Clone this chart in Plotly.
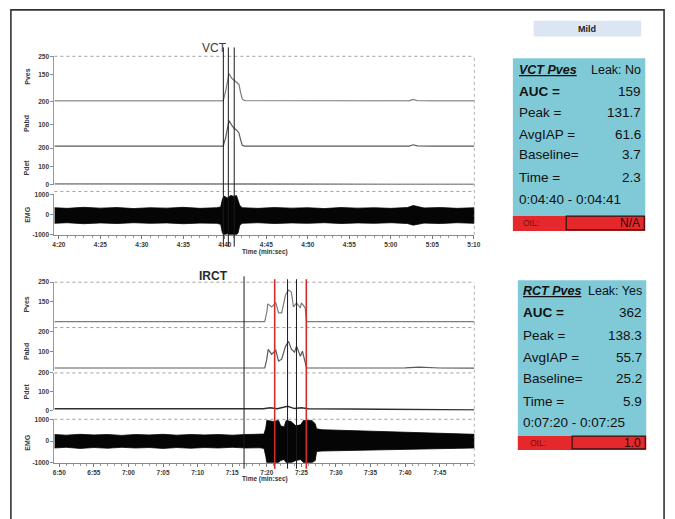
import plotly.graph_objects as go

W, H = 675, 519


def px(x):
    return x / W


def py(y):
    return 1 - y / H


# ---------------- VCT (top tracing) ----------------
vct_tick_vals = [260, 265, 270, 275, 280, 285, 290, 295, 300, 305, 310]
vct_tick_text = ["4:20", "4:25", "4:30", "4:35", "4:40", "4:45", "4:50", "4:55", "5:00", "5:05", "5:10"]
vct_range = [259.46, 310.06]

vct_p_t = [259.46, 265, 270, 275, 279.8, 280.1, 280.5, 280.8, 281.1, 281.4, 281.7, 281.9, 282.1, 282.4,
           285, 290, 295, 300, 302.2, 302.7, 303.2, 305, 310.06]
vct_pves = [4, 4.5, 3.5, 4, 4, 60, 155, 130, 118, 108, 95, 50, 15, 5,
            5, 4, 5, 4, 4, 12, 5, 4, 4]
vct_pabd = [8, 8.5, 7.5, 8, 8, 45, 118, 100, 85, 78, 65, 35, 12, 8,
            8, 8, 9, 8, 8, 14, 9, 8, 8]
vct_pdet_t = [259.46, 270, 279.8, 280.5, 281.2, 282, 285, 290, 300, 302.7, 305, 310.06]
vct_pdet = [2, 2, 2, 5, 3, 2, 2, 1.5, 1, 0.5, 1, 0.5]

vct_emg_t = [259.46, 261, 263, 265, 267, 269, 271, 273, 275, 277, 279,
             279.5, 279.7, 279.9, 280.3, 280.7, 281.1, 281.4, 281.6, 281.8, 282.1,
             284, 286, 288, 290, 292, 294, 296, 298, 300, 302,
             302.7, 304, 306, 308, 310.06]
vct_emg_hi = [340, 310, 360, 320, 350, 300, 340, 320, 360, 310, 340,
              380, 750, 920, 820, 950, 900, 950, 700, 450, 340,
              310, 350, 320, 340, 300, 350, 320, 340, 310, 350,
              450, 330, 350, 310, 340]
vct_emg_lo = [-430, -400, -450, -410, -440, -400, -430, -410, -450, -420, -430,
              -480, -900, -1000, -950, -1000, -1000, -1000, -900, -520, -430,
              -400, -440, -410, -430, -400, -440, -410, -430, -400, -440,
              -520, -420, -440, -400, -430]
vct_marks = [279.82, 280.42, 281.13]

# ---------------- IRCT (bottom tracing) ----------------
irct_tick_vals = [410, 415, 420, 425, 430, 435, 440, 445, 450, 455, 460, 465]
irct_tick_text = ["6:50", "6:55", "7:00", "7:05", "7:10", "7:15", "7:20", "7:25", "7:30", "7:35", "7:40", "7:45"]
irct_range = [409.29, 470]

irct_pves_t = [409.29, 415, 420, 425, 430, 435, 439.7, 440.0, 440.15, 440.7, 441.3, 441.7, 442.15,
               442.7, 443.15, 443.55, 443.85, 444.3, 444.85, 445.0, 445.55, 445.75,
               450, 455, 460, 465, 470]
irct_pves = [50, 50, 49, 50, 50, 50, 50, 100, 140, 125, 145, 95, 95,
             185, 210, 200, 125, 145, 120, 145, 120, 50,
             50, 51, 50, 50, 50]
irct_pves_ref = 20

irct_pabd_t = [409.29, 415, 420, 425, 430, 435, 439.7, 440.0, 440.2, 440.7, 441.3, 441.7, 442.15,
               442.7, 443.15, 443.55, 444.0, 444.3, 444.85, 445.15, 445.55, 445.75,
               450, 455, 460, 462, 465, 470]
irct_pabd = [15, 15, 14, 15, 15, 15, 15, 60, 110, 85, 105, 50, 60,
             125, 150, 110, 95, 125, 75, 100, 35, 15,
             15, 15, 16, 20, 15, 14]

irct_pdet_t = [409.29, 418, 420.5, 422, 430, 439.5, 440.5, 441.5, 443.0, 444.0, 445.0, 446, 452, 460, 470]
irct_pdet = [9, 9, 13, 9, 9, 9, 14, 9, 22, 10, 14, 9, 8, 5, 2]

irct_emg_t = [409.29, 411, 413, 415, 417, 419, 421, 423, 425, 427, 429, 431, 433, 435, 437, 439,
              439.6, 439.85, 440.0, 441.0, 441.7, 442.0, 442.5, 442.8, 443.5, 444.2, 444.9, 445.3, 446.5, 447.0, 447.2,
              448, 450, 452, 454, 456, 458, 460, 462, 464, 466, 468, 470]
irct_emg_hi = [300, 270, 310, 280, 300, 260, 300, 280, 310, 270, 300, 280, 300, 270, 300, 290,
               320, 600, 950, 900, 950, 700, 650, 950, 900, 700, 750, 950, 950, 800, 560,
               520, 500, 480, 450, 440, 420, 400, 380, 360, 350, 330, 310]
irct_emg_lo = [-320, -290, -340, -300, -330, -290, -320, -300, -340, -300, -330, -300, -320, -290, -320, -310,
               -340, -700, -1000, -1000, -1000, -900, -850, -1000, -1000, -900, -850, -1000, -1000, -900, -480,
               -460, -450, -430, -420, -400, -390, -380, -370, -350, -340, -330, -320]
irct_marks_black = [436.71, 443.0, 444.29]
irct_marks_red = [441.14, 445.71]

# ---------------- summary tables ----------------
severity = "Mild"
row_labels = ["AUC =", "Peak =", "AvgIAP =", "Baseline=", "Time ="]
vct_title, vct_leak = "VCT Pves", "Leak: No"
vct_values = ["159", "131.7", "61.6", "3.7", "2.3"]
vct_window, vct_otl = "0:04:40 - 0:04:41", "N/A"
rct_title, rct_leak = "RCT Pves", "Leak: Yes"
rct_values = ["362", "138.3", "55.7", "25.2", "5.9"]
rct_window, rct_otl = "0:07:20 - 0:07:25", "1.0"

channels = ["Pves", "Pabd", "Pdet", "EMG"]

# ---------------- figure ----------------
fig = go.Figure()

FONT = "Liberation Sans, Arial, sans-serif"
PV_COL, PA_COL, PD_COL = "#7d7d7d", "#5a5a5a", "#2e2e2e"


def add_panel(xa, ys, pv_t, pv, pa_t, pa, pd_t, pd, e_t, e_hi, e_lo):
    fig.add_trace(go.Scatter(x=pv_t, y=pv, xaxis=xa, yaxis=ys[0], mode="lines",
                             line=dict(color=PV_COL, width=1.2), hoverinfo="skip"))
    fig.add_trace(go.Scatter(x=pa_t, y=pa, xaxis=xa, yaxis=ys[1], mode="lines",
                             line=dict(color=PA_COL, width=1.2), hoverinfo="skip"))
    fig.add_trace(go.Scatter(x=pd_t, y=pd, xaxis=xa, yaxis=ys[2], mode="lines",
                             line=dict(color=PD_COL, width=1.4), hoverinfo="skip"))
    fig.add_trace(go.Scatter(x=list(e_t) + list(e_t)[::-1], y=list(e_hi) + list(e_lo)[::-1],
                             xaxis=xa, yaxis=ys[3], mode="lines", fill="toself",
                             fillcolor="#050505", line=dict(color="#050505", width=0.8),
                             hoverinfo="skip"))


add_panel("x", ["y", "y2", "y3", "y4"], vct_p_t, vct_pves, vct_p_t, vct_pabd,
          vct_pdet_t, vct_pdet, vct_emg_t, vct_emg_hi, vct_emg_lo)
add_panel("x2", ["y5", "y6", "y7", "y8"], irct_pves_t, irct_pves, irct_pabd_t, irct_pabd,
          irct_pdet_t, irct_pdet, irct_emg_t, irct_emg_hi, irct_emg_lo)

tickfont = dict(size=6.5, color="#3a3a3a", family=FONT, weight="bold")


def yax(top, bottom, rng, tv, anchor):
    return dict(domain=[py(bottom), py(top)], range=rng, tickvals=tv, ticktext=[str(v) for v in tv],
                anchor=anchor, showline=True, linecolor="#9a9a9a", linewidth=1, ticks="outside",
                ticklen=3, tickcolor="#8a8a8a", tickfont=tickfont, showgrid=False, zeroline=False,
                fixedrange=True)


def xax(anchor, rng, tv, tt):
    return dict(domain=[px(53), px(478)], range=rng, tickvals=tv, ticktext=tt, anchor=anchor,
                showline=True, linecolor="#8a8a8a", linewidth=1, ticks="outside", ticklen=3,
                tickcolor="#777", tickfont=tickfont, showgrid=False, zeroline=False, fixedrange=True,
                minor=dict(tickmode="linear", tick0=0, dtick=1, ticks="outside", ticklen=2, tickcolor="#999"))


fig.update_layout(
    width=W, height=H, margin=dict(l=0, r=0, t=0, b=0),
    paper_bgcolor="white", plot_bgcolor="rgba(0,0,0,0)", showlegend=False,
    xaxis=xax("y4", vct_range, vct_tick_vals, vct_tick_text),
    xaxis2=xax("y8", irct_range, irct_tick_vals, irct_tick_text),
    yaxis=yax(53, 99, [0, 250], [150, 250], "x"),
    yaxis2=yax(99, 146, [0, 200], [100, 200], "x"),
    yaxis3=yax(146, 183, [0, 200], [0, 100, 200], "x"),
    yaxis4=yax(193, 234, [-1000, 1000], [-1000, 0, 1000], "x"),
    yaxis5=yax(282, 332, [0, 250], [150, 250], "x2"),
    yaxis6=yax(332, 372, [0, 200], [100, 200], "x2"),
    yaxis7=yax(374, 412, [0, 200], [0, 100, 200], "x2"),
    yaxis8=yax(421, 465, [-1000, 1000], [-1000, 0, 1000], "x2"),
)

shapes = []
# outer frame
shapes.append(dict(type="rect", xref="paper", yref="paper", x0=px(9), x1=px(670), y0=-0.05, y1=py(6),
                   line=dict(color="#333", width=1.6)))
# dotted guide lines of the tracings
for yy in [53, 190, 282, 374, 421]:
    shapes.append(dict(type="line", xref="paper", yref="paper", x0=px(53), x1=px(478), y0=py(yy), y1=py(yy),
                       line=dict(color="#a0a0a0", width=1, dash="dot")))
for (a, b) in [(53, 234), (282, 465)]:
    shapes.append(dict(type="line", xref="paper", yref="paper", x0=px(478), x1=px(478), y0=py(b), y1=py(a),
                       line=dict(color="#b0b0b0", width=1, dash="dot")))
shapes.append(dict(type="line", xref="paper", yref="y5", x0=px(53), x1=px(478),
                   y0=irct_pves_ref, y1=irct_pves_ref, line=dict(color="#9a9a9a", width=1, dash="dot")))
# event markers
for t in vct_marks:
    shapes.append(dict(type="line", xref="x", yref="paper", x0=t, x1=t, y0=py(246), y1=py(44),
                       line=dict(color="#1a1a1a", width=1)))
for i, t in enumerate(irct_marks_black):
    shapes.append(dict(type="line", xref="x2", yref="paper", x0=t, x1=t, y0=py(471),
                       y1=py(276 if i == 0 else 279), line=dict(color="#1a1a1a", width=1)))
for t in irct_marks_red:
    shapes.append(dict(type="line", xref="x2", yref="paper", x0=t, x1=t, y0=py(471), y1=py(279),
                       line=dict(color="#d22b2b", width=1.6)))

# summary boxes
CYAN, RED = "#80c9d7", "#e4282c"
shapes.append(dict(type="rect", xref="paper", yref="paper", x0=px(538), x1=px(647), y0=py(33), y1=py(17),
                   fillcolor="#dce6f2", line=dict(width=0), layer="below"))
for (x0, x1, xd, top, rb, bottom) in [(517, 651, 571, 55, 215, 230), (522, 652, 577, 280, 438, 452)]:
    shapes.append(dict(type="rect", xref="paper", yref="paper", x0=px(x0), x1=px(x1), y0=py(rb), y1=py(top),
                       fillcolor=CYAN, line=dict(width=0), layer="below"))
    shapes.append(dict(type="rect", xref="paper", yref="paper", x0=px(x0), x1=px(x1), y0=py(bottom), y1=py(rb),
                       fillcolor=RED, line=dict(width=0), layer="below"))
    shapes.append(dict(type="rect", xref="paper", yref="paper", x0=px(xd), x1=px(x1 - 1), y0=py(bottom - 1),
                       y1=py(rb), line=dict(color="#3a1010", width=1.2)))
fig.update_layout(shapes=shapes)

ann = []


def text(x, y, s, size=7, color="#333", xanchor="center", angle=0, weight="normal", family=FONT):
    ann.append(dict(x=px(x), y=py(y), xref="paper", yref="paper", text=s, showarrow=False,
                    xanchor=xanchor, yanchor="middle", textangle=angle,
                    font=dict(size=size, color=color, family=family, weight=weight)))


text(215, 45, "VCT", size=12, color="#3a3a3a")
text(214, 276, "IRCT", size=12, color="#2a2a2a", weight="bold")
text(266, 251, "Time (min:sec)", size=6.5, color="#333", weight="bold")
text(266, 482, "Time (min:sec)", size=6.5, color="#333", weight="bold")
for name, yt, yb in zip(channels, [74, 121, 166, 213], [305, 352, 393, 444]):
    text(25, yt, name, size=7, color="#3a3a3a", angle=-90, weight="bold")
    text(25, yb, name, size=7, color="#3a3a3a", angle=-90, weight="bold")

text(592, 25, "<b>" + severity + "</b>", size=9, color="#222")

row_ys_top = [89, 110, 132, 153, 176]
row_ys_bot = [313, 336, 358, 380, 403]
for (xl, xr, ys, ttl, leak, vals, win, otl, yt, yw, yo, xo) in [
        (521, 649, row_ys_top, vct_title, vct_leak, vct_values, vct_window, vct_otl, 67, 198, 222, 525),
        (525, 650, row_ys_bot, rct_title, rct_leak, rct_values, rct_window, rct_otl, 291, 424, 445, 532)]:
    text(xl, yt, "<b><i><u>" + ttl + "</u></i></b>", size=12.5, color="#111", xanchor="left")
    text(xr, yt, leak, size=12.5, color="#111", xanchor="right")
    for i, (lab, v, yy) in enumerate(zip(row_labels, vals, ys)):
        text(xl, yy, ("<b>" + lab + "</b>") if i == 0 else lab, size=13.5, color="#111", xanchor="left")
        text(xr, yy, v, size=13.5, color="#111", xanchor="right")
    text(xl, yw, win, size=13.5, color="#111", xanchor="left")
    text(xo, yo, "OtL:", size=8.5, color="#7a1010", xanchor="left")
    text(xr - 1, yo, otl, size=12, color="#2a0a0a", xanchor="right")

fig.update_layout(annotations=ann)

fig.write_html(
    "out.html",
    config={"displayModeBar": False, "staticPlot": True},
    post_script="document.body.style.margin='0';document.body.style.padding='0';"
                "document.body.style.overflow='hidden';",
)
